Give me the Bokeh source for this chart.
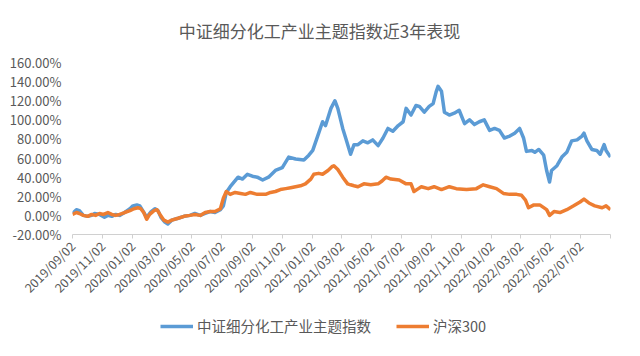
import math
import pandas as pd
from bokeh.plotting import figure
from bokeh.layouts import column
from bokeh.models import (ColumnDataSource, FixedTicker, PrintfTickFormatter,
                          DatetimeTickFormatter, Legend, LegendItem, Range1d, Label)
from bokeh.core.properties import value
from bokeh.embed import file_html
from bokeh.resources import INLINE

title_text = "中证细分化工产业主题指数近3年表现"
series_names = ["中证细分化工产业主题指数", "沪深300"]
start_date = "2019-09-02"
end_date = "2022-09-01"

tick_labels = ["2019/09/02", "2019/11/02", "2020/01/02", "2020/03/02", "2020/05/02",
               "2020/07/02", "2020/09/02", "2020/11/02", "2021/01/02", "2021/03/02",
               "2021/05/02", "2021/07/02", "2021/09/02", "2021/11/02", "2022/01/02",
               "2022/03/02", "2022/05/02", "2022/07/02"]
y_ticks = [-20, 0, 20, 40, 60, 80, 100, 120, 140, 160]

# days since start_date, cumulative return in %
chem_days = [0, 8, 14, 22, 31, 39, 45, 55, 65, 72, 80, 88, 96, 106, 117, 123, 131, 137, 143, 151,
             160, 168, 174, 180, 188, 194, 202, 215, 227, 239, 249, 260, 270, 280, 290, 301, 307,
             313, 321, 329, 337, 346, 356, 366, 376, 387, 399, 413, 427, 440, 454, 471, 481, 489,
             499, 509, 515, 526, 534, 540, 550, 556, 566, 573, 581, 591, 601, 611, 622, 632, 642,
             652, 663, 673, 679, 689, 699, 706, 716, 726, 734, 740, 744, 751, 757, 767, 777, 787,
             798, 808, 818, 828, 838, 849, 859, 869, 879, 890, 900, 910, 918, 924, 935, 941, 949,
             959, 965, 971, 975, 986, 996, 1006, 1016, 1027, 1037, 1041, 1047, 1057, 1067, 1074,
             1082, 1086, 1095]
chem_vals = [2, 6, 5, 0, -1, 0, 2, 1, -2, 0, -1, 1, 0, 3, 7, 10, 11, 10, 5, -2,
             4, 7, 5, -2, -7, -9, -5, -3, -1, 0, 2, 0, 2, 4, 3, 6, 10,
             24, 30, 35, 40, 38, 43, 41, 40, 37, 40, 47, 50, 61, 59, 58, 63, 68,
             83, 98, 94, 112, 120, 112, 91, 81, 64, 74, 74, 78, 76, 79, 73, 81, 91,
             88, 94, 98, 112, 105, 115, 114, 108, 114, 117, 129, 135, 130, 108, 105, 107, 110,
             96, 100, 95, 98, 100, 89, 91, 89, 81, 83, 86, 91, 81, 67, 68, 66, 69,
             63, 47, 35, 47, 52, 61, 66, 78, 79, 83, 86, 78, 69, 68, 64,
             74, 68, 61]

hs300_days = [0, 8, 14, 22, 31, 39, 47, 55, 63, 72, 80, 88, 96, 106, 117, 125, 133, 139, 145, 151,
              157, 166, 172, 178, 186, 194, 202, 215, 227, 239, 249, 260, 270, 280, 290, 301, 307,
              313, 321, 331, 342, 352, 362, 376, 393, 403, 413, 423, 434, 444, 454, 464, 474, 485,
              491, 501, 509, 520, 528, 532, 540, 550, 560, 566, 573, 581, 593, 607, 622, 630, 638,
              648, 665, 679, 689, 695, 704, 710, 724, 736, 751, 767, 781, 802, 822, 836, 849, 863,
              877, 890, 904, 914, 922, 928, 939, 951, 965, 971, 980, 992, 1006, 1020, 1033, 1041,
              1051, 1063, 1078, 1086, 1095]
hs300_vals = [1, 3, 2, 0, -1, 1, 0, 2, 1, 3, 1, 0, 1, 3, 5, 7, 8, 7, 3, -4,
              1, 5, 6, 1, -5, -7, -5, -3, -1, 0, 1, 0, 3, 4, 4, 7, 18,
              25, 22, 24, 23, 22, 24, 22, 22, 24, 25, 27, 28, 29, 30, 31, 33, 38,
              43, 44, 43, 47, 51, 52, 48, 40, 33, 32, 31, 30, 33, 32, 33, 36, 40,
              38, 37, 33, 33, 25, 28, 30, 28, 30, 27, 30, 28, 27, 28, 32, 30, 28,
              23, 22, 22, 21, 16, 8, 11, 11, 6, 0, 4, 3, 6, 10, 14, 17,
              13, 10, 8, 10, 6]

colors = ["#5B9BD5", "#ED7D31"]
text_color = "#595959"
axis_color = "#D0D0D0"
cjk_font = "Noto Sans CJK SC"
W = 640
FL, FR = 72, 610   # plot-area left/right edge (pixels); shared by all strips

t0 = pd.Timestamp(start_date)
chem_dates = t0 + pd.to_timedelta(chem_days, unit="D")
hs300_dates = t0 + pd.to_timedelta(hs300_days, unit="D")
epoch = pd.Timestamp("1970-01-01")
tick_dt = pd.to_datetime(tick_labels, format="%Y/%m/%d")
tick_ms = [float((d - epoch) // pd.Timedelta("1ms")) for d in tick_dt]
end_ms = float((pd.Timestamp(end_date) - epoch) // pd.Timedelta("1ms"))

src_chem = ColumnDataSource(dict(d=chem_dates, v=chem_vals))
src_hs300 = ColumnDataSource(dict(d=hs300_dates, v=hs300_vals))


def blank_panel(h):
    f = figure(width=W, height=h, x_range=Range1d(FL, FR), y_range=Range1d(0, h),
               x_axis_location=None, y_axis_location=None,
               output_backend="svg", toolbar_location=None,
               min_border_left=FL, min_border_right=W - FR, min_border_top=0,
               min_border_bottom=0)
    f.grid.grid_line_color = None
    f.outline_line_color = None
    return f


# ---- title strip ----
TH = 48
pt = blank_panel(TH)
pt.add_layout(Label(x=319, y=TH - 30, text=title_text, text_align="center",
                    text_baseline="middle", text_font=cjk_font, text_font_size="17px",
                    text_color=text_color))

# ---- main chart ----
MH = 258
p = figure(width=W, height=MH, x_axis_type="datetime",
           x_range=Range1d(t0, pd.Timestamp(end_date)), y_range=Range1d(-20, 160),
           output_backend="svg", toolbar_location=None,
           min_border_left=FL, min_border_right=W - FR, min_border_top=62 - TH,
           min_border_bottom=MH - (240 - TH))
p.title.text = ""

r1 = p.line(x="d", y="v", source=src_chem, line_width=3.5, line_color=colors[0],
            line_join="round")
r2 = p.line(x="d", y="v", source=src_hs300, line_width=3.5, line_color=colors[1],
            line_join="round")

p.xgrid.grid_line_color = None
p.ygrid.grid_line_color = None
p.outline_line_color = None

fmt = "%Y/%m/%d"
xa = p.xaxis[0]
xa.ticker = FixedTicker(ticks=tick_ms, minor_ticks=[end_ms])
xa.formatter = DatetimeTickFormatter(microseconds=fmt, milliseconds=fmt, seconds=fmt,
                                     minsec=fmt, minutes=fmt, hourmin=fmt, hours=fmt,
                                     days=fmt, months=fmt, years=fmt)
xa.major_label_orientation = math.pi / 4
xa.axis_line_color = axis_color
xa.major_tick_line_color = axis_color
xa.minor_tick_line_color = axis_color
xa.major_tick_in = 0
xa.major_tick_out = 4
xa.minor_tick_in = 0
xa.minor_tick_out = 4
xa.major_label_standoff = 5
xa.major_label_text_font = cjk_font
xa.major_label_text_font_size = "12.5px"
xa.major_label_text_color = text_color

ya = p.yaxis[0]
ya.ticker = FixedTicker(ticks=y_ticks)
ya.formatter = PrintfTickFormatter(format="%.2f%%")
ya.axis_line_color = None
ya.major_tick_line_color = None
ya.minor_tick_line_color = None
ya.major_tick_out = 0
ya.major_tick_in = 0
ya.major_label_standoff = 11
ya.major_label_text_font = cjk_font
ya.major_label_text_font_size = "13px"
ya.major_label_text_color = text_color

# ---- legend strip (legend renderers reuse the series sources; they fall outside this strip's range) ----
LH = 356 - TH - MH
pl = blank_panel(LH)
k1 = pl.line(x="d", y="v", source=src_chem, line_width=3.5, line_color=colors[0])
k2 = pl.line(x="d", y="v", source=src_hs300, line_width=3.5, line_color=colors[1])
legend = Legend(items=[LegendItem(label=value(series_names[0]), renderers=[k1]),
                       LegendItem(label=value(series_names[1]), renderers=[k2])],
                orientation="horizontal", location=(160 - FL, LH - 30))
legend.border_line_color = None
legend.background_fill_alpha = 0
legend.padding = 0
legend.margin = 0
legend.spacing = 25
legend.glyph_width = 33
legend.glyph_height = 20
legend.label_height = 20
legend.label_standoff = 4
legend.label_text_font = cjk_font
legend.label_text_font_size = "14.5px"
legend.label_text_color = text_color
pl.add_layout(legend)

layout = column(pt, p, pl, spacing=0)
open("out.html", "w").write(file_html(layout, INLINE))
